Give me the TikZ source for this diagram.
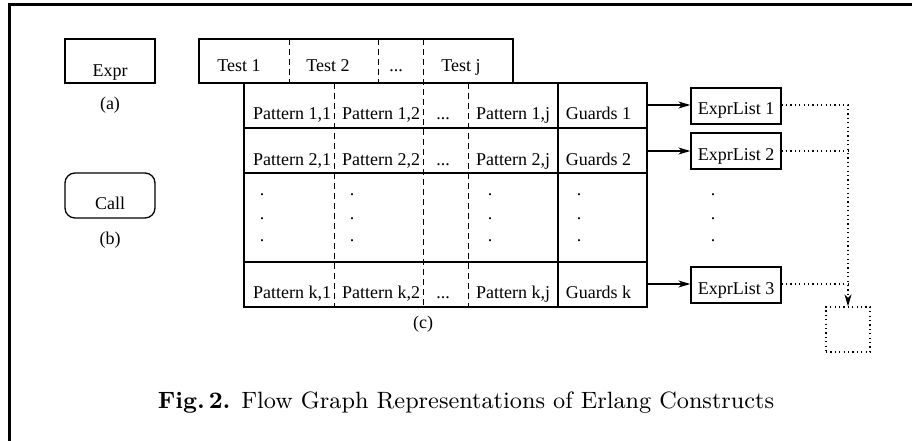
\documentclass[tikz,border=0pt]{standalone}
\usepackage{fontspec}
\newfontfamily\tms{Liberation Serif}
\newfontfamily\capfont[BoldFont=lmroman9-bold.otf]{lmroman9-regular.otf}
\usetikzlibrary{arrows.meta}
\begin{document}
\begin{tikzpicture}[x=1pt,y=-1pt,
  lbl/.style={font=\tms\fontsize{18}{20}\selectfont, inner sep=0, anchor=base},
  box/.style={draw, line width=1.3pt, inner sep=0, font=\tms\fontsize{18}{20}\selectfont},
  gridline/.style={line width=1.3pt},
  dsh/.style={line width=1pt, dash pattern=on 6pt off 4pt},
  dotline/.style={line width=1.2pt, dash pattern=on 1.2pt off 3.2pt},
  arr/.style={-{Stealth[length=12pt,width=7pt,inset=3.5pt]}},
]
\useasboundingbox (0,0) rectangle (912,441);
% frame
\draw[line width=2.7pt] (8,4.7) -- (912,4.7);
\draw[line width=2.5pt] (9.3,3.4) -- (9.3,441);

% (a) and (b)
\node[box, minimum width=90, text height=38, text depth=6] (expr) at (110,61) {Expr};
\node[lbl] (la) at (110,110) {(a)};
\node[box, rounded corners=10pt, minimum width=90, text height=36, text depth=9] (call) at (110,195.5) {Call};
\node[lbl] (lb) at (110,244) {(b)};

% test box
\draw[gridline] (199,39) rectangle (513,83);
\draw[dsh] (289,39) -- (289,83);
\draw[dsh] (378,39) -- (378,83);
\draw[dsh] (423,39) -- (423,307);
\node[lbl] (t1) at (239,72) {Test 1};
\node[lbl] (t2) at (328,72) {Test 2};
\node[lbl] (t3) at (396,72) {...};
\node[lbl] (tj) at (461,72) {Test j};

% table
\draw[gridline] (244,83) rectangle (647,307);
\draw[gridline] (244,128) -- (647,128);
\draw[gridline] (244,173) -- (647,173);
\draw[gridline] (244,262) -- (647,262);
\draw[gridline] (558,83) -- (558,307);
\draw[dsh] (334,83) -- (334,307);
\draw[dsh] (468,83) -- (468,307);

\node[lbl] (p11) at (292,120) {Pattern 1,1};
\node[lbl] (p12) at (381,120) {Pattern 1,2};
\node[lbl] (p13) at (443,120) {...};
\node[lbl] (p1j) at (513,120) {Pattern 1,j};
\node[lbl] (g1t) at (598.5,120) {Guards 1};

\node[lbl] (p21) at (292,165) {Pattern 2,1};
\node[lbl] (p22) at (381,165) {Pattern 2,2};
\node[lbl] (p23) at (443,165) {...};
\node[lbl] (p2j) at (513,165) {Pattern 2,j};
\node[lbl] (g2t) at (598.5,165) {Guards 2};

\node[lbl] (pk1) at (292,298) {Pattern k,1};
\node[lbl] (pk2) at (381,298) {Pattern k,2};
\node[lbl] (pk3) at (443,298) {...};
\node[lbl] (pkj) at (513,298) {Pattern k,j};
\node[lbl] (gkt) at (598.5,298) {Guards k};

\foreach \xx [count=\i] in {262,352,490,579,713}{
  \foreach \yy [count=\j] in {195,219,241}{
    \node[lbl] (dot-\i-\j) at (\xx,\yy) {.};
  }
}
\node[lbl] (lc) at (423,328) {(c)};

% expression lists
\node[box, minimum width=90, text height=27, text depth=9] (e1) at (736,106) {ExprList 1};
\node[box, minimum width=90, text height=27, text depth=9] (e2) at (736,151) {ExprList 2};
\node[box, minimum width=90, text height=27, text depth=9] (e3) at (736,285) {ExprList 3};
\node[draw, dotline, inner sep=0, minimum width=44, minimum height=45] (dbox) at (848,329.5) {};

\coordinate (g1) at (647,105);
\coordinate (g2) at (647,151);
\coordinate (gk) at (647,284);
\draw[gridline, arr] (g1) -- (g1 -| e1.west);
\draw[gridline, arr] (g2) -- (g2 -| e2.west);
\draw[gridline, arr] (gk) -- (gk -| e3.west);

\coordinate (c1) at (848,105);
\draw[dotline, arr] (e1.east |- c1) -- (c1) -- (dbox.north);
\draw[dotline] (e2.east) -- (e2.east -| c1);
\draw[dotline] (e3.east |- gk) -- (gk -| c1);

% caption
\node[anchor=base, inner sep=0, font=\capfont\fontsize{23.6}{26}\selectfont] (cap) at (466,408) {\textbf{Fig.\,2.} Flow Graph Representations of Erlang Constructs};
\end{tikzpicture}
\end{document}
